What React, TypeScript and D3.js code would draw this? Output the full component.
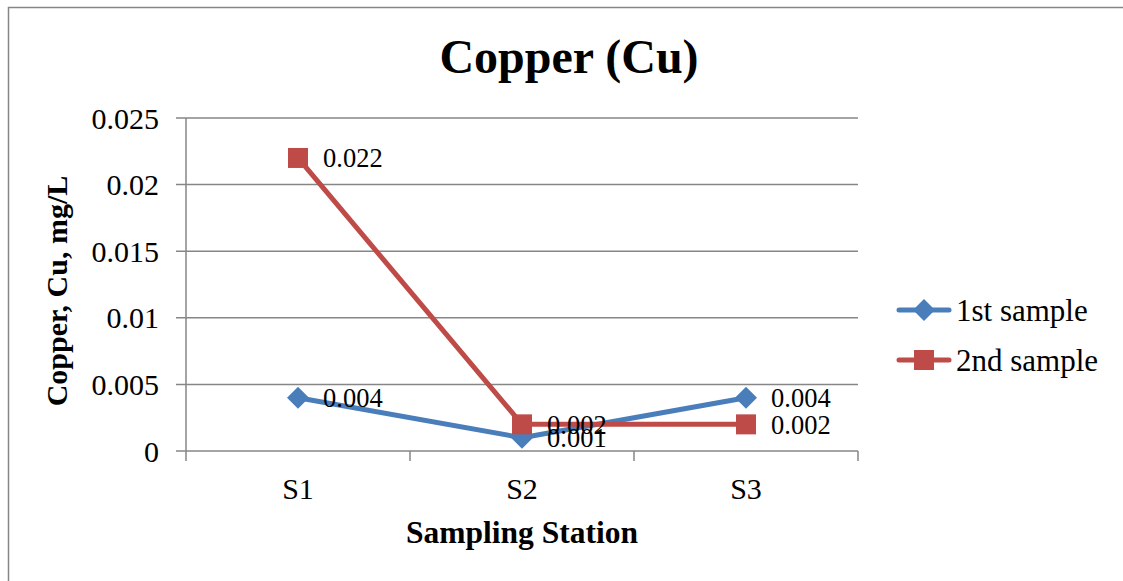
import React from "react";
import * as d3 from "d3";

const categories = ["S1", "S2", "S3"];
const firstSample = [0.004, 0.001, 0.004];
const secondSample = [0.022, 0.002, 0.002];
const yTicks = [0, 0.005, 0.01, 0.015, 0.02, 0.025];
const yTickLabels = ["0", "0.005", "0.01", "0.015", "0.02", "0.025"];
const seriesNames = ["1st sample", "2nd sample"];

const W = 1123;
const H = 581;
const FONT = '"Liberation Serif", "Times New Roman", Times, "DejaVu Serif", serif';
const BLUE = "#4A7EBB";
const RED = "#BE4B48";
const GRID = "#868686";

export default function App() {
  const plot = { left: 186, right: 858, top: 118, bottom: 451 };
  const x = d3
    .scaleBand<string>()
    .domain(categories)
    .range([plot.left, plot.right])
    .paddingInner(0)
    .paddingOuter(0);
  const cx = (c: string) => (x(c) as number) + x.bandwidth() / 2;
  const y = d3.scaleLinear().domain([0, 0.025]).range([plot.bottom, plot.top]);

  const line = d3
    .line<number>()
    .x((_, i) => cx(categories[i]))
    .y((d) => y(d));

  const bounds = [...categories.map((c) => x(c) as number), plot.right];
  const diamond = (px: number, py: number, r: number) =>
    `M${px},${py - r}L${px + r},${py}L${px},${py + r}L${px - r},${py}Z`;

  const series = [
    { name: seriesNames[0], values: firstSample, color: BLUE, marker: "diamond" },
    { name: seriesNames[1], values: secondSample, color: RED, marker: "square" },
  ];

  const marker = (kind: string, px: number, py: number, color: string) =>
    kind === "diamond" ? (
      <path d={diamond(px, py, 11)} fill={color} />
    ) : (
      <rect x={px - 10} y={py - 10} width={20} height={20} fill={color} />
    );

  return (
    <svg
      width={W}
      height={H}
      style={{ position: "absolute", left: 0, top: 0, background: "#fff", fontFamily: FONT }}
    >
      <rect x={8.5} y={7.5} width={1140} height={600} fill="#fff" stroke={GRID} strokeWidth={1.5} />

      <text x={569} y={73} textAnchor="middle" fontSize={48} fontWeight="bold">
        Copper (Cu)
      </text>

      {/* horizontal gridlines and y ticks */}
      {yTicks.map((t, i) => (
        <g key={t}>
          <line x1={plot.left - 10} x2={plot.right} y1={y(t)} y2={y(t)} stroke={GRID} strokeWidth={1.5} />
          <text x={159} y={y(t)} dy="0.35em" textAnchor="end" fontSize={30}>
            {yTickLabels[i]}
          </text>
        </g>
      ))}
      <line x1={plot.left} x2={plot.left} y1={plot.top} y2={plot.bottom} stroke={GRID} strokeWidth={1.5} />

      {/* category ticks and labels */}
      {bounds.map((b) => (
        <line key={b} x1={b} x2={b} y1={plot.bottom} y2={plot.bottom + 10} stroke={GRID} strokeWidth={1.5} />
      ))}
      {categories.map((c) => (
        <text key={c} x={cx(c)} y={499} textAnchor="middle" fontSize={30}>
          {c}
        </text>
      ))}

      <text x={522} y={543} textAnchor="middle" fontSize={31.5} fontWeight="bold">
        Sampling Station
      </text>
      <text
        transform={`translate(67,291) rotate(-90)`}
        textAnchor="middle"
        fontSize={30}
        fontWeight="bold"
      >
        Copper, Cu, mg/L
      </text>

      {/* series lines and markers */}
      {series.map((s) => (
        <g key={s.name}>
          <path d={line(s.values) || ""} fill="none" stroke={s.color} strokeWidth={5} strokeLinejoin="round" strokeLinecap="round" />
          {s.values.map((v, i) => (
            <g key={i}>{marker(s.marker, cx(categories[i]), y(v), s.color)}</g>
          ))}
        </g>
      ))}

      {/* data labels */}
      {series.map((s) =>
        s.values.map((v, i) => (
          <text key={s.name + i} x={cx(categories[i]) + 25} y={y(v)} dy="0.35em" fontSize={26.5}>
            {String(v)}
          </text>
        ))
      )}

      {/* legend */}
      {series.map((s, i) => {
        const ly = 310 + i * 50;
        return (
          <g key={s.name}>
            <line x1={899} x2={949} y1={ly} y2={ly} stroke={s.color} strokeWidth={5} strokeLinecap="round" />
            {marker(s.marker, 924, ly, s.color)}
            <text x={956} y={ly} dy="0.35em" fontSize={31}>
              {s.name}
            </text>
          </g>
        );
      })}
    </svg>
  );
}
